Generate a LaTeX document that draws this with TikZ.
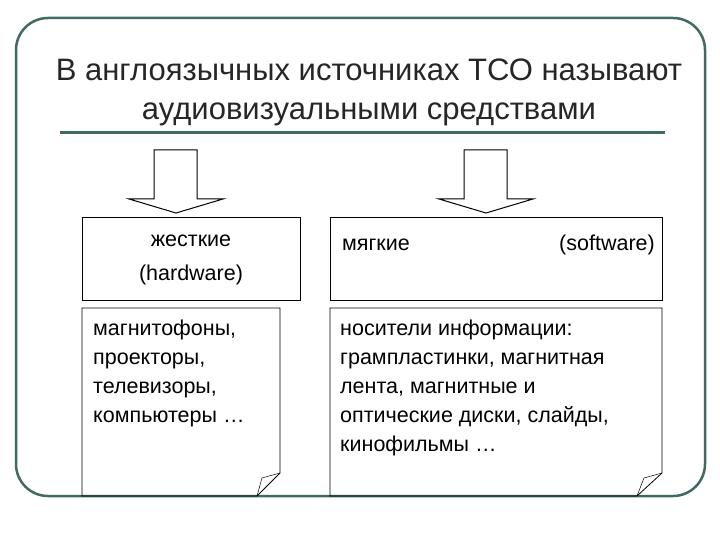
\documentclass[tikz,border=0pt]{standalone}
\usepackage{fontspec}
\setmainfont{Liberation Sans}
\begin{document}
\begin{tikzpicture}[x=1pt,y=-1pt,
  box/.style={draw=black, line width=1pt},
  txt/.style={font=\fontsize{21.5}{29}\selectfont, align=left, inner sep=0pt},
  barrow/.style={draw=black, line width=1pt, fill=white}]
\useasboundingbox (0,0) rectangle (720,540);
\definecolor{fr}{HTML}{3F6B63}
\draw[line width=2.5pt, draw=fr, rounded corners=32] (16,18) rectangle (705,496);
\node[font=\fontsize{31}{39}\selectfont, text=black!85, align=center, inner sep=0pt] (title) at (369,92) {В англоязычных источниках ТСО называют\\аудиовизуальными средствами};
\draw[line width=3pt, draw=fr] (60,133) coordinate (l1) -- (665,133) coordinate (l2);
% arrows
\draw[barrow] (154,150) -- (197,150) -- (197,199) -- (223,199) -- (176,213) -- (129,199) -- (154,199) -- cycle;
\draw[barrow] (464,150) -- (507,150) -- (507,199) -- (533,199) -- (486,213) -- (439,199) -- (464,199) -- cycle;
% top boxes
\draw[box] (82,218) rectangle (300,300);
\node[txt, font=\fontsize{21.5}{34}\selectfont, align=center] (hw) at (191,260) {жесткие\\(hardware)};
\draw[box] (330,218) rectangle (662,300);
\node[txt, anchor=base west] (sm) at (342,250) {мягкие};
\node[txt, anchor=base east] (sw) at (655,250) {(software)};
% notes
\draw[box, line width=0.8pt] (82,308) -- (280,308) -- (280,473) -- (257,496) -- (82,496) -- cycle;
\draw[line width=0.5pt] (280,473) -- (262,478) -- (257,496);
\node[txt, anchor=north west] (n1) at (93,320) {магнитофоны,\\проекторы,\\телевизоры,\\компьютеры \dots};
\draw[box, line width=0.8pt] (330,308) -- (662,308) -- (662,473) -- (637,496) -- (330,496) -- cycle;
\draw[line width=0.5pt] (662,473) -- (644,478) -- (637,496);
\node[txt, anchor=north west] (n2) at (340,320) {носители информации:\\грампластинки, магнитная\\лента, магнитные и\\оптические диски, слайды,\\кинофильмы \dots};
\end{tikzpicture}
\end{document}
